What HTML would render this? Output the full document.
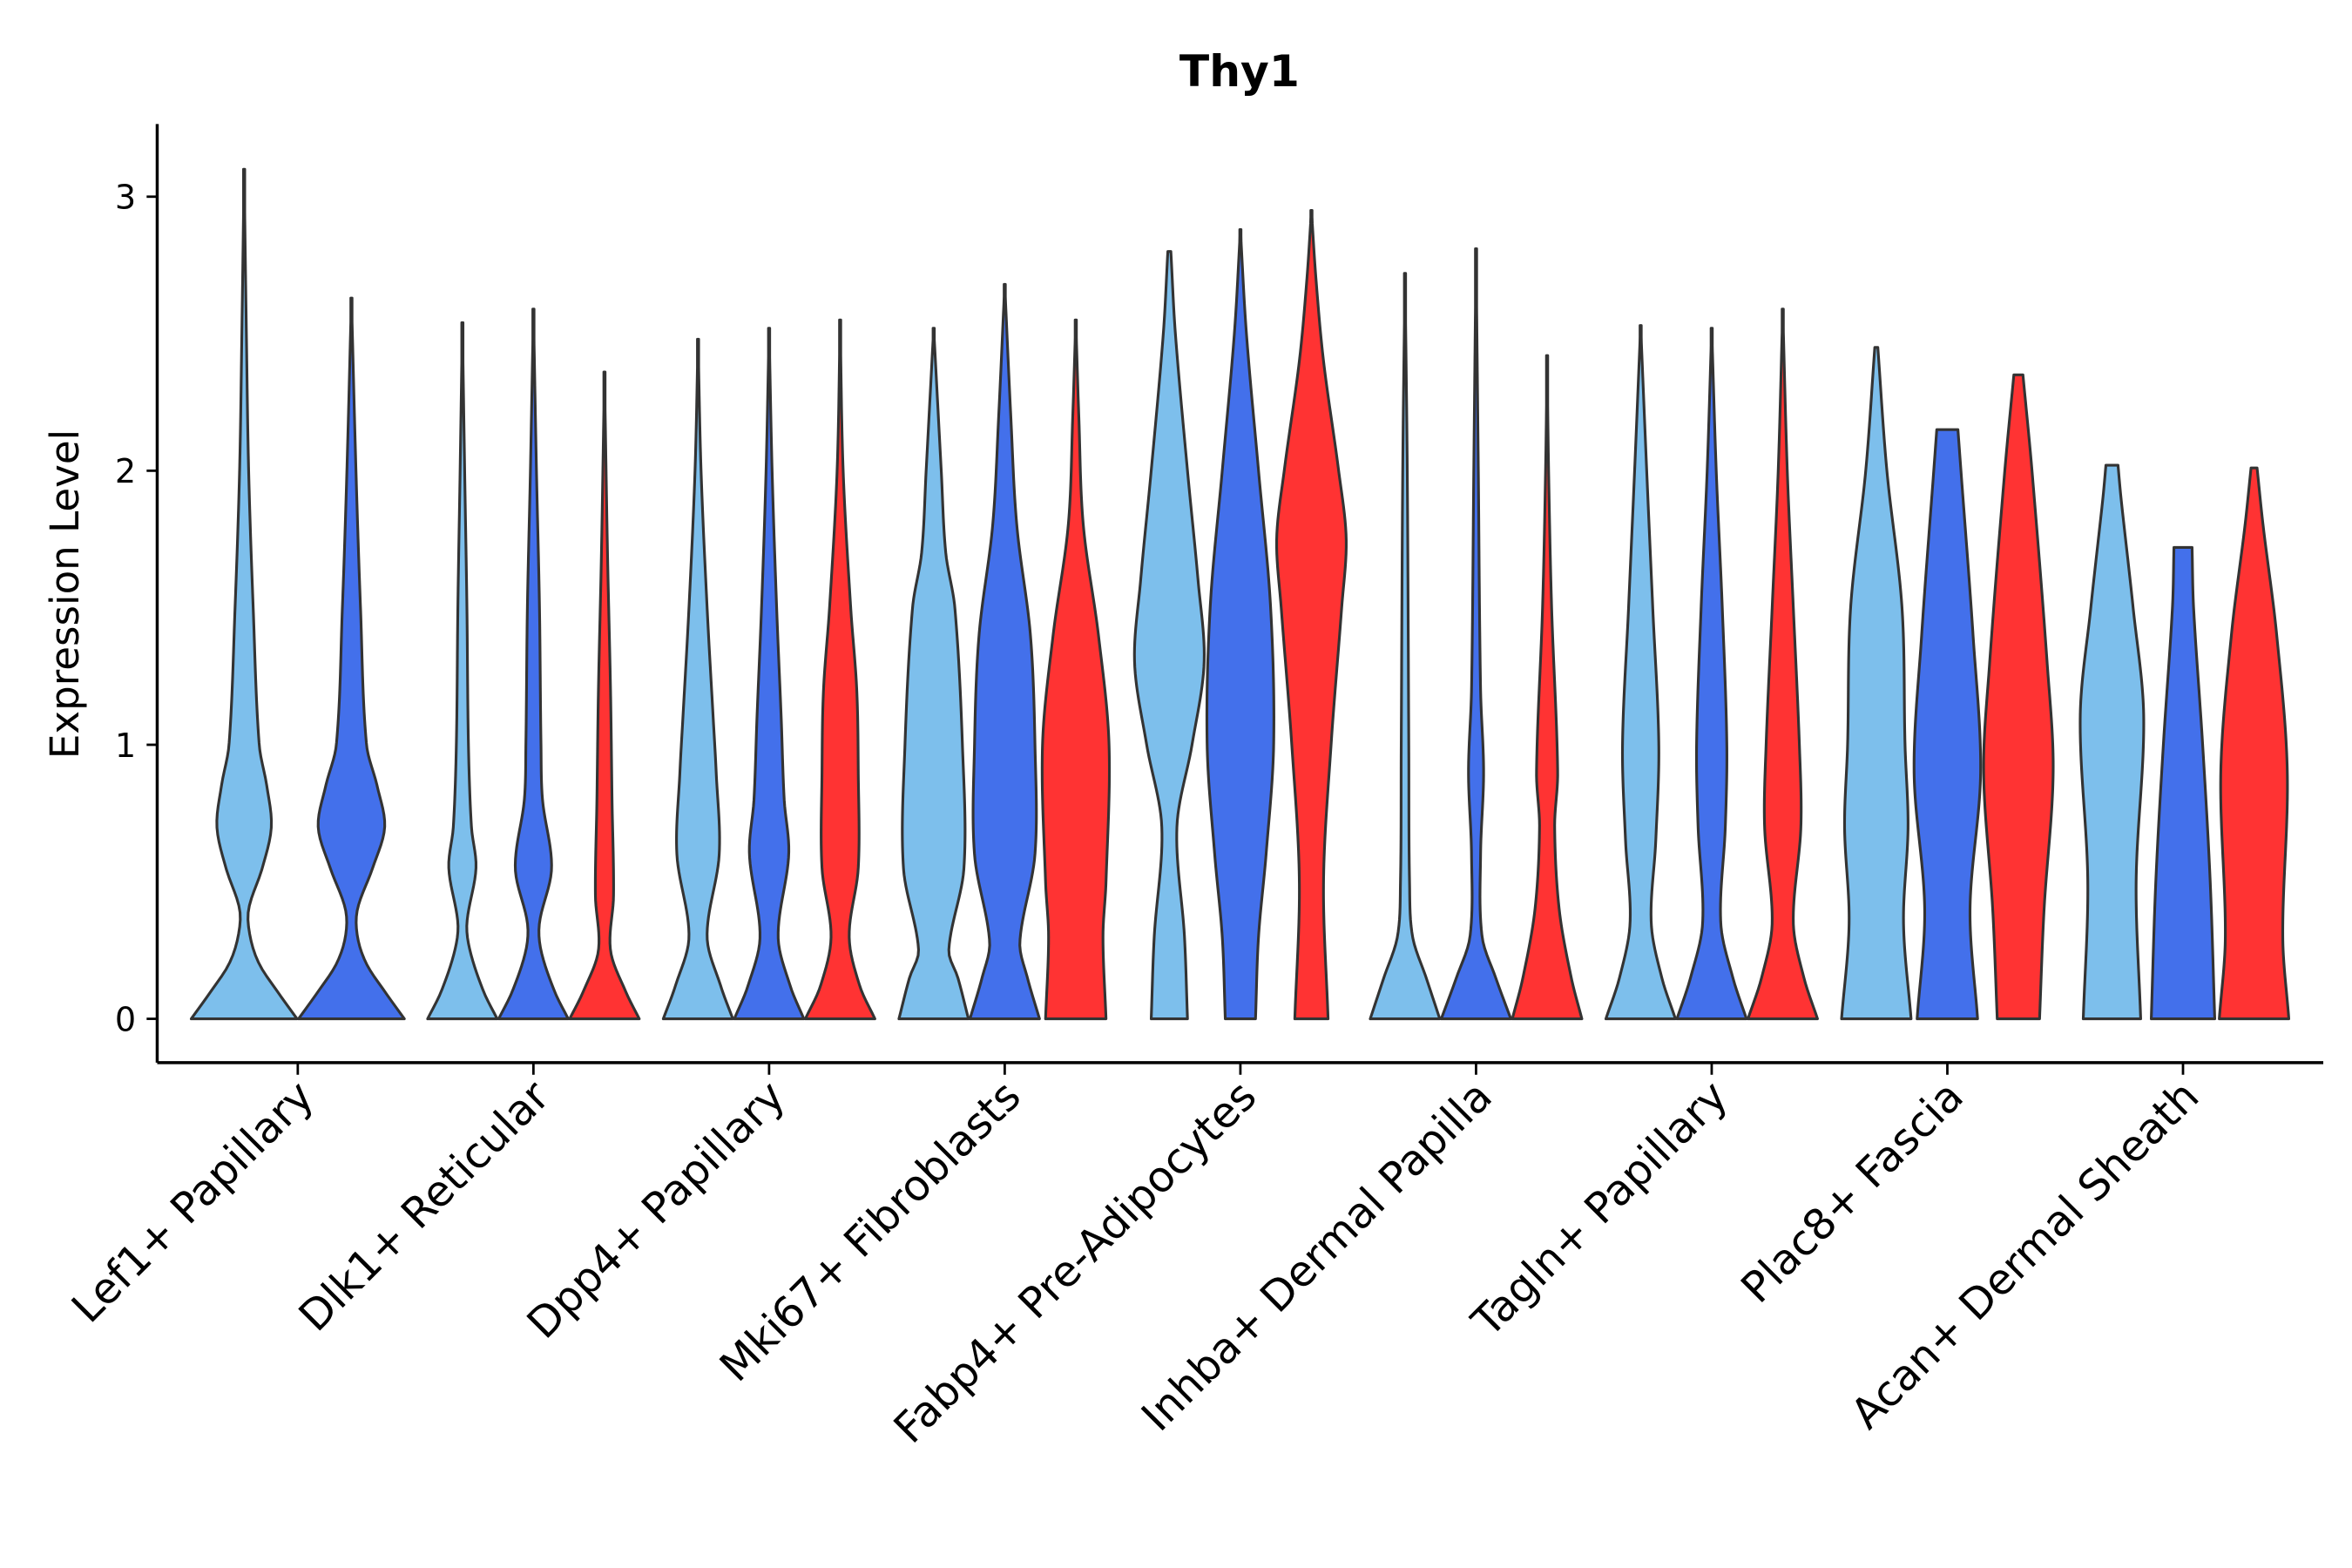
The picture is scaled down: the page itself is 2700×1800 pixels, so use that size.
<!DOCTYPE html>
<html><head><meta charset="utf-8"><style>html,body{margin:0;padding:0;background:#fff}svg{display:block}text{font-family:"DejaVu Sans","Liberation Sans",sans-serif}</style></head>
<body>
<svg id="chart" width="2700" height="1800" viewBox="0 0 1556 1037.3" xmlns="http://www.w3.org/2000/svg">
<rect width="1556" height="1038" fill="#fff"/>
<text x="820" y="57" text-anchor="middle" font-size="29" font-weight="bold">Thy1</text>
<text transform="translate(52,393) rotate(-90)" text-anchor="middle" font-size="26">Expression Level</text>
<g id="axes"></g>
<g id="violins"></g>
</svg>
<script>
const categories = ["Lef1+ Papillary","Dlk1+ Reticular","Dpp4+ Papillary","Mki67+ Fibroblasts","Fabp4+ Pre-Adipocytes","Inhba+ Dermal Papilla","Tagln+ Papillary","Plac8+ Fascia","Acan+ Dermal Sheath"];
const seriesColors = ["#7DBFEC","#4370EB","#FF3333"];
const yTicks = [0,1,2,3];
// density knots [expression, relative half-width]
const lef1 = [
 [[0,35],[0.1,22],[0.2,10],[0.3,4],[0.4,3],[0.55,12],[0.7,18],[0.85,15],[1.0,10],[1.5,6],[2.0,3],[2.5,1.5],[3.1,0]],
 [[0,35],[0.1,22],[0.2,10],[0.3,4],[0.4,4],[0.55,14],[0.7,22],[0.85,17],[1.0,10],[1.5,6],[2.0,3],[2.63,0]]
];
const dlk1 = [
 [[0,23],[0.1,14],[0.25,5],[0.35,3],[0.55,9],[0.7,6],[1.0,4],[1.5,3],[2.0,1.5],[2.54,0]],
 [[0,23],[0.1,14],[0.25,5],[0.35,4],[0.55,12],[0.8,6],[1.0,5],[1.5,4],[2.0,2],[2.59,0]],
 [[0,23],[0.1,14],[0.25,4],[0.45,6],[0.8,5],[1.2,4],[1.7,2],[2.36,0]]
];
const dpp4 = [
 [[0,23],[0.12,15],[0.3,6],[0.6,14],[0.9,12],[1.1,10],[1.5,6],[2.0,2],[2.48,0]],
 [[0,23],[0.12,14],[0.3,6],[0.6,13],[0.8,10],[1.1,8],[1.5,5],[2.0,2],[2.52,0]],
 [[0,23],[0.12,13],[0.3,6],[0.55,12],[0.9,12],[1.2,11],[1.5,7],[2.0,2],[2.55,0]]
];
const mki67 = [
 [[0,23],[0.15,16],[0.25,10],[0.55,20],[1.0,19],[1.5,14],[1.7,8],[2.0,5],[2.52,0]],
 [[0,23],[0.15,15],[0.28,10],[0.6,20],[1.0,20],[1.4,17],[1.8,8],[2.2,4],[2.68,0]],
 [[0,20],[0.3,18],[0.5,20],[1.0,22],[1.4,15],[1.8,5],[2.2,2],[2.55,0]]
];
const fabp4 = [
 [[0,12],[0.3,10],[0.7,5],[1.0,15],[1.3,23],[1.6,19],[2.0,12],[2.5,4],[2.8,1]],
 [[0,10],[0.3,12],[0.6,17],[1.0,22],[1.5,20],[2.0,12],[2.5,4],[2.88,0]],
 [[0,11],[0.5,8],[1.0,13],[1.5,20],[1.75,23],[2.0,18],[2.4,8],[2.7,3],[2.95,0]]
];
const inhba = [
 [[0,23],[0.15,14],[0.3,5],[0.5,3],[1.0,2.5],[2.0,1.5],[2.72,0]],
 [[0,23],[0.15,13],[0.3,4],[0.6,3],[0.9,5],[1.2,3],[2.0,1.5],[2.81,0]],
 [[0,23],[0.15,16],[0.4,8],[0.7,5],[0.9,7],[1.5,3],[2.0,1],[2.42,0]]
];
const tagln = [
 [[0,23],[0.15,14],[0.35,7],[0.65,10],[1.0,12],[1.5,8],[2.0,4],[2.53,0]],
 [[0,23],[0.15,14],[0.35,6],[0.7,9],[1.0,10],[1.5,7],[2.0,3],[2.52,0]],
 [[0,23],[0.15,14],[0.35,7],[0.7,12],[1.0,11],[1.5,7],[2.0,3],[2.59,0]]
];
const plac8 = [
 [[0,23],[0.35,18],[0.7,21],[1.0,19],[1.5,17],[2.0,7],[2.45,1]],
 [[0,20],[0.4,15],[0.9,22],[1.4,17],[2.0,9],[2.15,7]],
 [[0,14],[0.4,17],[0.9,23],[1.3,19],[2.0,9],[2.35,3]]
];
const acan = [
 [[0,19],[0.5,16],[1.1,21],[1.5,14],[1.9,6],[2.02,4]],
 [[0,21],[0.5,18],[1.0,13],[1.5,7],[1.72,6]],
 [[0,23],[0.3,19],[0.9,22],[1.4,15],[1.8,6],[2.01,2]]
];
const groups = [lef1,dlk1,dpp4,mki67,fabp4,inhba,tagln,plac8,acan];

const NS="http://www.w3.org/2000/svg";
const axes=document.getElementById('axes'), vg=document.getElementById('violins');
const X0=104, X1=1537, Y0=674, YU=181.3;
function yScale(v){return Y0 - v*YU;}
function xScale(i){return 197 + i*155.9;}
function mk(tag,attrs,parent){const e=document.createElementNS(NS,tag);for(const k in attrs)e.setAttribute(k,attrs[k]);parent.appendChild(e);return e;}

let l=mk('line',{x1:X0,y1:82,x2:X0,y2:703,stroke:'#000','stroke-width':2},axes);


l=mk('line',{x1:X0,y1:703,x2:X1,y2:703,stroke:'#000','stroke-width':2},axes);


yTicks.forEach(t=>{
 const y=yScale(t);
 const tk=mk('line',{x1:X0-7,y1:y,x2:X0,y2:y,stroke:'#000','stroke-width':1.6},axes);
 
 
 const tx=mk('text',{x:X0-14,y:y+8,'text-anchor':'end','font-size':22},axes);
 tx.textContent=t;
 
 
});
categories.forEach((c,i)=>{
 const x=xScale(i);
 const tk=mk('line',{x1:x,y1:703,x2:x,y2:711,stroke:'#000','stroke-width':1.6},axes);
 
 
 const tx=mk('text',{transform:`translate(${x+12},${727}) rotate(-45)`,'text-anchor':'end','font-size':28},axes);
 tx.textContent=c;
 
 
});

function interp(knots,v){
 let k=0;while(k<knots.length-2&&v>knots[k+1][0])k++;
 const p1=knots[k],p2=knots[k+1];
 const p0=knots[Math.max(0,k-1)],p3=knots[Math.min(knots.length-1,k+2)];
 const t=(v-p1[0])/(p2[0]-p1[0]||1);
 const m1=(p2[1]-p0[1])/((p2[0]-p0[0])||1)*(p2[0]-p1[0]);
 const m2=(p3[1]-p1[1])/((p3[0]-p1[0])||1)*(p2[0]-p1[0]);
 const t2=t*t,t3=t2*t;
 let w=(2*t3-3*t2+1)*p1[1]+(t3-2*t2+t)*m1+(-2*t3+3*t2)*p2[1]+(t3-t2)*m2;
 return Math.max(0.4,w);
}
groups.forEach((g,gi)=>{
 const n=g.length;
 const off = n===2?71:47;
 g.forEach((knots,si)=>{
  const cx=xScale(gi)+(si-(n-1)/2)*off;
  const top=knots[knots.length-1][0];
  const N=120;const R=[],L=[];
  for(let s=0;s<=N;s++){
   const v=top*s/N;
   const w=interp(knots,v);
   R.push([cx+w,yScale(v)]);L.push([cx-w,yScale(v)]);
  }
  let d='M'+L.map(p=>p[0].toFixed(2)+','+p[1].toFixed(2)).join('L');
  d+='L'+R.reverse().map(p=>p[0].toFixed(2)+','+p[1].toFixed(2)).join('L')+'Z';
  const p=mk('path',{d:d,fill:seriesColors[si],stroke:'#333','stroke-width':1.8,'stroke-linejoin':'round'},vg);
  
  
 });
});
</script>
</body></html>
